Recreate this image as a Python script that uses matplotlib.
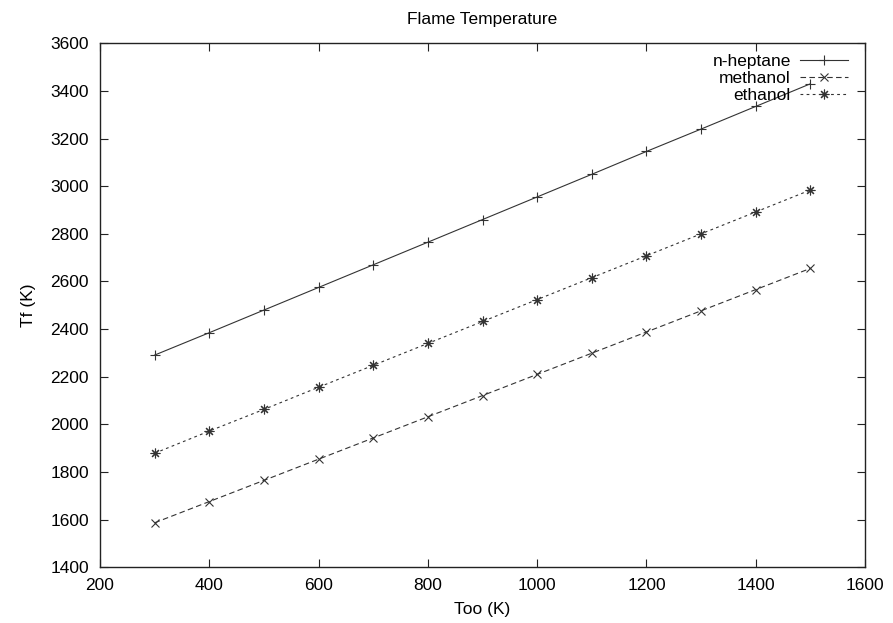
import matplotlib
matplotlib.use("Agg")
import matplotlib.pyplot as plt

plt.rcParams['font.family'] = ['Liberation Sans', 'DejaVu Sans']

# data
t_inf = [300, 400, 500, 600, 700, 800, 900, 1000, 1100, 1200, 1300, 1400, 1500]
heptane = [2291, 2385, 2480, 2575, 2670, 2765, 2860, 2955, 3050, 3146, 3240, 3335, 3430]
methanol = [1587, 1676, 1765, 1854, 1943, 2032, 2121, 2210, 2299, 2388, 2477, 2566, 2655]
ethanol = [1879, 1972, 2063, 2156, 2248, 2340, 2432, 2524, 2616, 2708, 2800, 2892, 2984]

fs = 12.5
fig = plt.figure(figsize=(8.93, 6.23), dpi=100)
ax = fig.add_axes([0.112, 0.0894, 0.8567, 0.8411])

lw = 0.8
ax.plot(t_inf, heptane, color='#333333', lw=lw, ls='-', marker='+',
        ms=7, mew=0.8, label='n-heptane')
ax.plot(t_inf, methanol, color='#333333', lw=lw, ls=(0, (5, 3)), marker='x',
        ms=6, mew=0.8, label='methanol')
ax.plot(t_inf, ethanol, color='#333333', lw=lw, ls=(0, (2.5, 3)), marker=(8, 2, 0),
        ms=7, mew=0.8, label='ethanol')

ax.set_xlim(200, 1600)
ax.set_ylim(1400, 3600)
ax.set_xticks(range(200, 1601, 200))
ax.set_yticks(range(1400, 3601, 200))
ax.tick_params(direction='in', length=6, width=0.8, top=True, right=True,
               labelsize=fs, pad=8, colors='#222222', labelcolor='black')
for s in ax.spines.values():
    s.set_linewidth(1.0)
    s.set_color('#222222')

ax.set_title('Flame Temperature', fontsize=fs, pad=14)
ax.set_xlabel('Too (K)', fontsize=fs, labelpad=6)
ax.set_ylabel('Tf (K)', fontsize=fs, labelpad=10)

ax.legend(loc='upper right', bbox_to_anchor=(0.978, 0.979), frameon=False,
          markerfirst=False, fontsize=fs, handlelength=2.8, handletextpad=0.5,
          labelspacing=0.1, borderaxespad=0.0, borderpad=0.0)

fig.savefig('out.png', dpi=100)
